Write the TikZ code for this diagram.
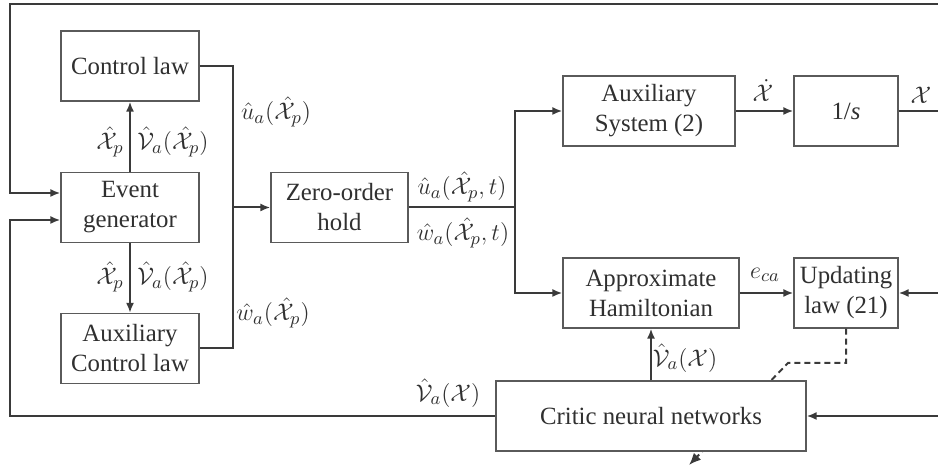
\documentclass[tikz,border=0pt]{standalone}
\usepackage[no-math]{fontspec}
\setmainfont{Liberation Serif}
\usetikzlibrary{arrows.meta,calc}
\definecolor{lncol}{HTML}{3A3A3A}
\definecolor{bxcol}{HTML}{5A5A5A}
\definecolor{txcol}{HTML}{303030}
\begin{document}
\begin{tikzpicture}[x=0.5pt,y=-0.5pt,
  every node/.style={font=\fontsize{12.4}{15}\selectfont},
  blk/.style={draw=bxcol,line width=0.6pt,fill=white,minimum height=35pt,inner sep=0pt,align=center,text=txcol},
  wire/.style={line width=1pt,draw=lncol},
  arr/.style={wire,-{Latex[length=5pt,width=4pt]}},
  lbl/.style={text=txcol,inner sep=0pt}]
\useasboundingbox (0,0) rectangle (938,469);

% blocks
\node[blk,minimum width=69pt] (cl) at (130,66) {Control law};
\node[blk,minimum width=69pt] (eg) at (130,207.5) {Event\\generator};
\node[blk,minimum width=69pt] (acl) at (130,348.5) {Auxiliary\\Control law};
\node[blk,minimum width=68.5pt] (zoh) at (339.5,207.5) {Zero-order\\hold};
\node[blk,minimum width=86pt] (as) at (649,111) {Auxiliary\\System (2)};
\node[blk,minimum width=52pt] (ints) at (846,111) {1/\textit{s}};
\node[blk,minimum width=88pt] (ah) at (651,293) {Approximate\\Hamiltonian};
\node[blk,minimum width=52pt] (ul) at (846,293) {Updating\\law (21)};

% dashed tuning arrow (behind critic box)
\coordinate (d1) at (846,363);
\coordinate (d2) at (788,363);
\coordinate (d3) at (689,465);
\draw[wire,dashed,dash pattern=on 3pt off 2pt,-{Latex[length=6pt,width=5pt]}] (ul.south) -- (d1) -- (d2) -- (d3);

\node[blk,minimum width=155pt] (cnn) at (651,416) {Critic neural networks};

% free ends
\coordinate (topR) at (938,4);
\coordinate (xR) at (938,111);
\coordinate (ulR) at (938,293);
\coordinate (cnnR) at (938,416);
\coordinate (bus) at (233,207.5);
\coordinate (split) at (515,207.5);

% top feedback loop
\draw[arr] (topR) -| (10,193) -- (eg.west |- 10,193);
% bottom loop from critic
\draw[arr] (cnn.west) -| (10,220) -- (eg.west |- 10,220);

% event generator to control laws
\draw[arr] (eg.north) -- (cl.south);
\draw[arr] (eg.south) -- (acl.north);

% bus to zero-order hold
\draw[wire] (cl.east) -| (bus) |- (acl.east);
\draw[arr] (bus) -- (zoh.west);

% zero-order hold outputs
\draw[wire] (zoh.east) -- (split);
\draw[arr] (split) |- (as.west);
\draw[arr] (split) |- (ah.west);

\draw[arr] (as.east) -- (ints.west);
\draw[wire] (ints.east) -- (xR);
\draw[arr] (ah.east) -- (ul.west);
\draw[arr] (ulR) -- (ul.east);
\draw[arr] (cnnR) -- (cnn.east);
\draw[arr] (cnn.north -| ah.south) -- (ah.south);

% labels
\node[lbl] at (110,142) {$\hat{\mathcal{X}}_p$};
\node[lbl] at (173,142) {$\hat{\mathcal{V}}_a(\hat{\mathcal{X}}_p)$};
\node[lbl] at (110,277) {$\hat{\mathcal{X}}_p$};
\node[lbl] at (173,277) {$\hat{\mathcal{V}}_a(\hat{\mathcal{X}}_p)$};
\node[lbl] at (276,112) {$\hat{u}_a(\hat{\mathcal{X}}_p)$};
\node[lbl] at (273,313) {$\hat{w}_a(\hat{\mathcal{X}}_p)$};
\node[lbl] at (462,187) {$\hat{u}_a(\hat{\mathcal{X}}_p,t)$};
\node[lbl] at (463,233) {$\hat{w}_a(\hat{\mathcal{X}}_p,t)$};
\node[lbl] at (763,91) {$\dot{\mathcal{X}}$};
\node[lbl] at (921,95) {$\mathcal{X}$};
\node[lbl] at (765,275) {$e_{ca}$};
\node[lbl] at (685,358) {$\hat{\mathcal{V}}_a(\mathcal{X})$};
\node[lbl] at (448,393) {$\hat{\mathcal{V}}_a(\mathcal{X})$};
\end{tikzpicture}
\end{document}
